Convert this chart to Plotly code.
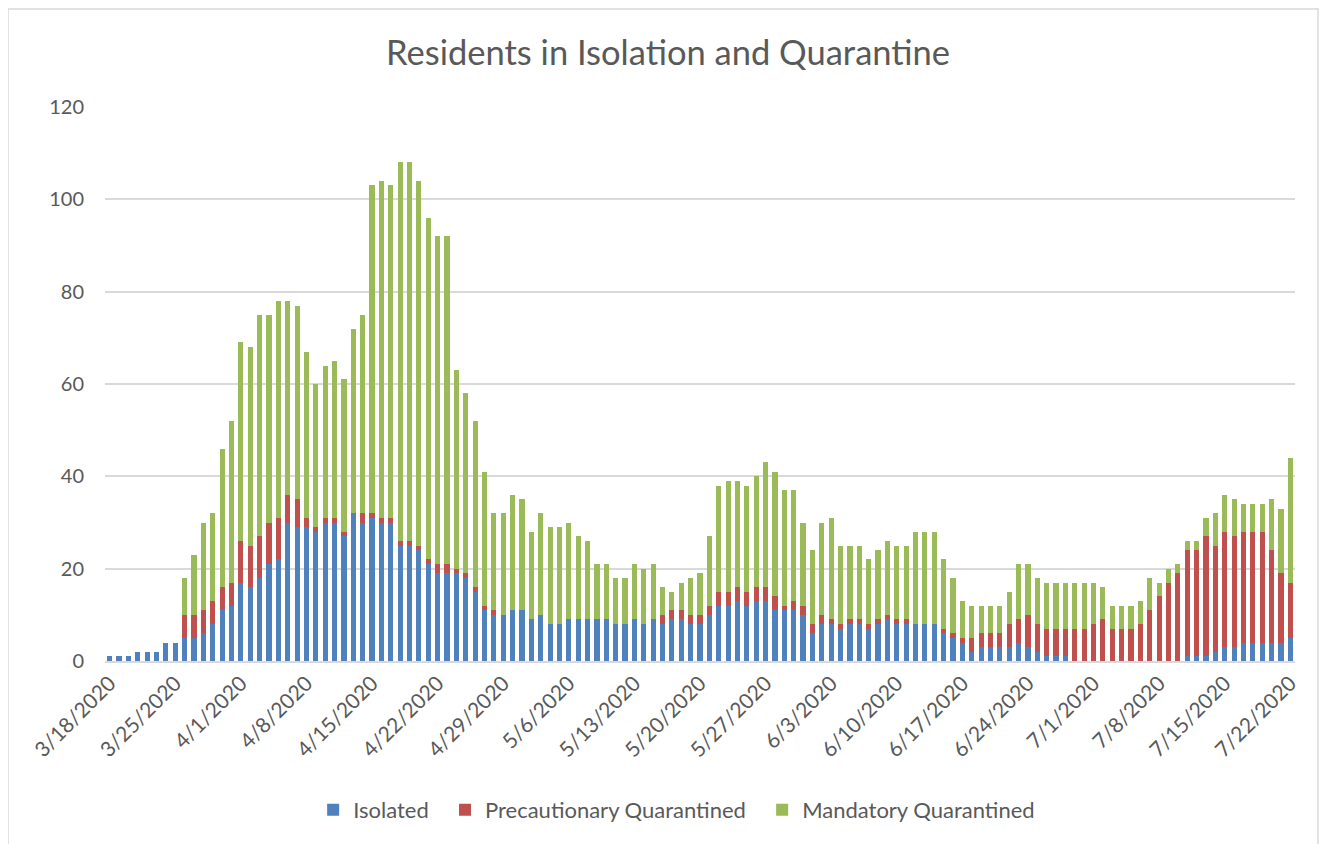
import datetime as dt
import plotly.graph_objects as go

# Daily categories 3/18/2020 .. 7/22/2020
start = dt.date(2020, 3, 18)
n_days = 127
dates = [(start + dt.timedelta(days=i)) for i in range(n_days)]
categories = [f"{d.month}/{d.day}/{d.year}" for d in dates]
tick_labels = categories[::7]

# rows of 10 days each
isolated = [
    1, 1, 1, 2, 2, 2, 4, 4, 5, 5,
    6, 8, 11, 12, 17, 16, 18, 21, 22, 30,
    29, 29, 28, 30, 30, 27, 32, 30, 31, 30,
    30, 25, 25, 24, 21, 19, 19, 19, 18, 15,
    11, 10, 10, 11, 11, 9, 10, 8, 8, 9,
    9, 9, 9, 9, 8, 8, 9, 8, 9, 8,
    9, 9, 8, 8, 10, 12, 12, 13, 12, 13,
    13, 11, 11, 11, 10, 6, 8, 8, 7, 8,
    8, 7, 8, 9, 8, 8, 8, 8, 8, 6,
    5, 4, 2, 3, 3, 3, 3, 4, 3, 2,
    1, 1, 1, 0, 0, 0, 0, 0, 0, 0,
    0, 0, 0, 0, 0, 1, 1, 1, 2, 3,
    3, 4, 4, 4, 4, 4, 5,
]
precautionary = [
    0, 0, 0, 0, 0, 0, 0, 0, 5, 5,
    5, 5, 5, 5, 9, 9, 9, 9, 9, 6,
    6, 2, 1, 1, 1, 1, 0, 2, 1, 1,
    1, 1, 1, 1, 1, 2, 2, 1, 1, 1,
    1, 1, 0, 0, 0, 0, 0, 0, 0, 0,
    0, 0, 0, 0, 0, 0, 0, 0, 0, 2,
    2, 2, 2, 2, 2, 3, 3, 3, 3, 3,
    3, 3, 1, 2, 2, 2, 2, 1, 1, 1,
    1, 1, 1, 1, 1, 1, 0, 0, 0, 1,
    1, 1, 3, 3, 3, 3, 5, 5, 7, 6,
    6, 6, 6, 7, 7, 8, 9, 7, 7, 7,
    8, 11, 14, 17, 19, 23, 23, 26, 23, 25,
    24, 24, 24, 24, 20, 15, 12,
]
mandatory = [
    0, 0, 0, 0, 0, 0, 0, 0, 8, 13,
    19, 19, 30, 35, 43, 43, 48, 45, 47, 42,
    42, 36, 31, 33, 34, 33, 40, 43, 71, 73,
    72, 82, 82, 79, 74, 71, 71, 43, 39, 36,
    29, 21, 22, 25, 24, 19, 22, 21, 21, 21,
    18, 17, 12, 12, 10, 10, 12, 12, 12, 6,
    4, 6, 8, 9, 15, 23, 24, 23, 23, 24,
    27, 27, 25, 24, 18, 16, 20, 22, 17, 16,
    16, 14, 15, 16, 16, 16, 20, 20, 20, 15,
    12, 8, 7, 6, 6, 6, 7, 12, 11, 10,
    10, 10, 10, 10, 10, 9, 7, 5, 5, 5,
    5, 7, 3, 3, 2, 2, 2, 4, 7, 8,
    8, 6, 6, 6, 11, 14, 27,
]

series_names = ["Isolated", "Precautionary Quarantined", "Mandatory Quarantined"]
legend_labels = [n + "\u00a0" * 2 for n in series_names]
series_colors = ["#4F81BD", "#C0504D", "#9BBB59"]
series_values = [isolated, precautionary, mandatory]

FONT = "Lato, 'Open Sans', sans-serif"
GREY = "#595959"

fig = go.Figure()
for name, color, vals in zip(legend_labels, series_colors, series_values):
    fig.add_trace(go.Bar(
        x=categories, y=vals, name=name,
        marker=dict(color=color, line=dict(width=0)),
    ))

W, H = 1320, 836
fig.update_layout(
    width=W, height=H,
    barmode="stack", bargap=0.45,
    paper_bgcolor="white", plot_bgcolor="white",
    margin=dict(l=97, r=33, t=99, b=183),
    title=dict(text="Residents in Isolation and Quarantine",
               x=0.5, xanchor="center", y=1 - 45 / H, yanchor="middle",
               font=dict(family=FONT, size=34.5, color=GREY)),
    font=dict(family=FONT, size=20, color=GREY),
    showlegend=True,
    legend=dict(orientation="h", x=0.485, xanchor="center",
                y=(661 - 810) / 554, yanchor="middle",
                font=dict(family=FONT, size=22, color=GREY),
                traceorder="normal", itemwidth=30),
    xaxis=dict(type="category", tickmode="array", tickvals=tick_labels,
               ticktext=tick_labels, tickangle=-45, showgrid=False,
               showline=True, linecolor="#d9d9d9", linewidth=1.5,
               ticks="", tickfont=dict(family=FONT, size=21, color=GREY)),
    yaxis=dict(range=[0, 120], dtick=20, showgrid=True, gridcolor="#d9d9d9",
               gridwidth=1.5, zeroline=False, showline=False,
               ticklabelstandoff=20,
               tickfont=dict(family=FONT, size=20, color=GREY)),
    shapes=[dict(type="rect", xref="paper", yref="paper",
                 x0=(8 - 105) / 1190, x1=(1318 - 105) / 1190,
                 y0=(661 - 900) / 554, y1=(661 - 9) / 554,
                 line=dict(color="#d9d9d9", width=1.5), fillcolor="rgba(0,0,0,0)",
                 layer="below")],
)

fig.write_html("out.html")
